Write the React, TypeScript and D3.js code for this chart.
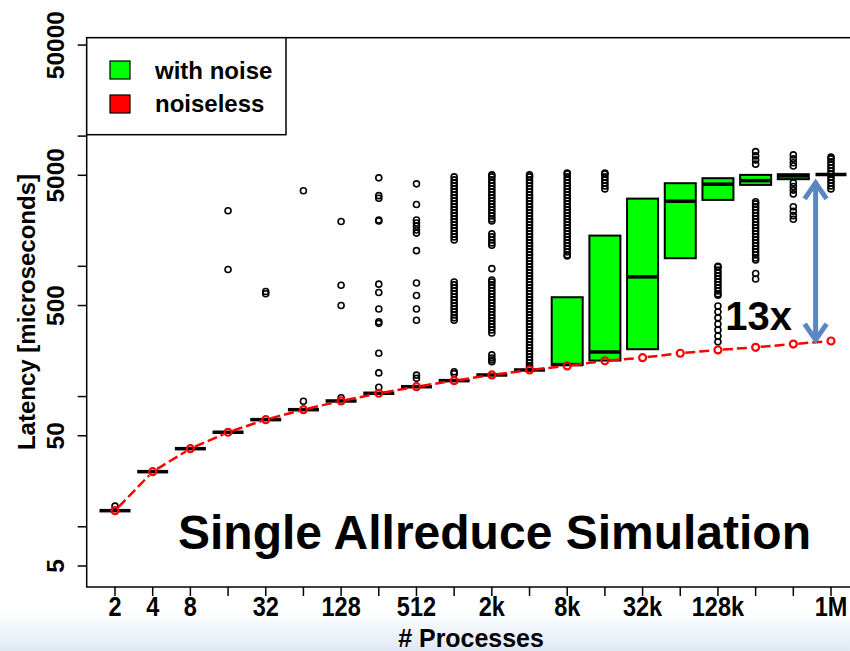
import * as d3 from 'd3'

const procs = [2, 4, 8, 16, 32, 64, 128, 256, 512, 1024, 2048, 4096, 8192, 16384, 32768, 65536, 131072, 262144, 524288, 1048576]
const xTickLabels = ['2', '4', '8', '', '32', '', '128', '', '512', '', '2k', '', '8k', '', '32k', '', '128k', '', '', '1M']

// noiseless latency (red) in microseconds
const noiseless = [13.3, 26.5, 39.8, 53.2, 66.5, 79.3, 92.5, 106, 119, 132.5, 146.5, 160, 172, 188, 199, 215, 228, 239, 253, 267]

// with-noise box statistics
const q1 = [13.3, 26.5, 39.8, 53.2, 66.5, 79.3, 92.5, 106, 119, 132.5, 146.5, 160, 175, 189, 231, 1154, 3237, 4220, 4667, 5070]
const medians = [13.3, 26.5, 39.8, 53.2, 66.5, 79.3, 92.5, 106, 119, 132.5, 146.5, 160, 176, 220, 830, 3162, 4272, 4552, 4947, 5070]
const q3 = [13.3, 26.5, 39.8, 53.2, 66.5, 79.3, 92.5, 106, 119, 132.5, 146.5, 160, 579, 1722, 3311, 4347, 4750, 5036, 5098, 5070]

const outliers: number[][] = [
  [14.4],
  [],
  [],
  [2670, 945],
  [640, 615],
  [3800, 92],
  [2210, 716, 500, 98],
  [4780, 3490, 3330, 2270, 2230, 730, 630, 470, 375, 365, 215, 152, 118],
  [4300, 2980, 2270, 2150, 2030, 1900, 1800, 1320, 745, 597, 470, 385, 146, 138],
  [4861, 4610, 4372, 4146, 3931, 3728, 3536, 3353, 3180, 3015, 2860, 2712, 2572, 2439, 2313, 2193, 2080, 1972, 1870, 1774, 1682, 1595,
    759, 720, 683, 647, 614, 582, 552, 524, 496, 471, 447, 423, 402, 385, 155, 150],
  [5036, 4861, 4610, 4372, 4146, 3931, 3728, 3536, 3353, 3180, 3015, 2860, 2712, 2572, 2439, 2313, 2230,
    1774, 1682, 1595, 1513, 1450, 960,
    786, 759, 720, 683, 647, 614, 582, 552, 524, 496, 471, 447, 423, 402, 381, 361, 342, 325, 308,
    209, 198, 191, 185],
  [5036, 4861, 4610, 4372, 4146, 3931, 3728, 3536, 3353, 3180, 3015, 2860, 2712, 2572, 2439, 2313, 2193, 2080, 1972, 1870, 1774,
    1682, 1595, 1513, 1435, 1361, 1290, 1224, 1160, 1100, 1044, 990, 938, 890, 844, 800, 759, 720, 683, 647, 614, 582, 552, 524,
    496, 471, 447, 423, 402, 381, 361, 342, 325, 308, 292, 277, 263, 249, 236, 224, 212, 201, 191, 181, 172, 166],
  [5200, 5126, 4861, 4610, 4372, 4146, 3931, 3728, 3536, 3353, 3180, 3015, 2860, 2712, 2572, 2439, 2313, 2193, 2080, 1972, 1870,
    1774, 1682, 1595, 1513, 1435, 1361, 1290, 1224, 1200],
  [5200, 5126, 4861, 4610, 4372, 4146, 3931],
  [],
  [],
  [1000, 990, 938, 890, 844, 800, 759, 720, 683, 647, 614, 600, 496, 447, 402, 361, 325, 292, 263],
  [7600, 7046, 6566, 6090, 3130, 3015, 2860, 2712, 2572, 2439, 2313, 2193, 2080, 1972, 1870, 1774, 1682, 1595, 1513, 1435, 1361,
    1290, 1224, 1160, 1120, 880, 800],
  [7174, 6683, 6240, 5900, 4372, 4100, 3850, 3600, 2870, 2650, 2450, 2300],
  [6900, 6683, 6338, 6010, 5700, 5405, 5126, 4861, 4610, 4372, 4146, 3931],
]

const yTickValues = [5, 10, 50, 100, 500, 1000, 5000, 10000, 50000]
const yLabelValues = [5, 50, 500, 5000, 50000]
const legendItems = [
  { label: 'with noise', color: '#00ff00' },
  { label: 'noiseless', color: '#ff0000' },
]

// 13x annotation
const arrowProcs = 790000
const arrowTop = 4610
const arrowBottom = 258

const W = 850
const H = 651
const plotLeft = 86.7
const plotTop = 37.7
const plotBottom = 587
const plotRight = 880
const boxW = 31
const font = '"Liberation Sans", Arial, sans-serif'

export default function App() {
  const x = d3.scaleLog().base(2).domain([2, 1048576]).range([115, 831])
  const y = d3.scaleLog().domain([5, 5000]).range([566, 175.3])

  const pts = procs.map((p, i) => [x(p), y(noiseless[i])] as [number, number])
  const gap = 5
  const segs = pts.slice(1).map((b, i) => {
    const a = pts[i]
    const dx = b[0] - a[0]
    const dy = b[1] - a[1]
    const len = Math.hypot(dx, dy)
    const ux = dx / len
    const uy = dy / len
    return [a[0] + ux * gap, a[1] + uy * gap, b[0] - ux * gap, b[1] - uy * gap]
  })

  const ax = x(arrowProcs)
  const aTop = y(arrowTop)
  const aBot = y(arrowBottom)

  return (
    <svg width={W} height={H} style={{ position: 'absolute', left: 0, top: 0, background: '#fff' }} fontFamily={font}>
      <defs>
        <linearGradient id="bg" x1="0" y1="0" x2="0" y2="1">
          <stop offset="0" stopColor="#ffffff" />
          <stop offset="1" stopColor="#dfe9f4" />
        </linearGradient>
      </defs>
      <rect x={0} y={0} width={W} height={H} fill="#fff" />
      <rect x={0} y={612} width={W} height={H - 612} fill="url(#bg)" />

      {/* frame */}
      <rect x={plotLeft} y={plotTop} width={plotRight - plotLeft} height={plotBottom - plotTop} fill="#fff" stroke="#000" strokeWidth={1.5} />

      {/* y axis */}
      {yTickValues.map((v) => (
        <line key={v} x1={plotLeft - 9} x2={plotLeft} y1={y(v)} y2={y(v)} stroke="#000" strokeWidth={1.5} />
      ))}
      {yLabelValues.map((v) => (
        <text key={v} transform={`translate(63.5,${y(v)}) rotate(-90)`} textAnchor="middle" fontSize={24.5} fontWeight="bold">
          {v}
        </text>
      ))}
      <text transform="translate(35,312) rotate(-90)" textAnchor="middle" fontSize={24} fontWeight="bold">
        Latency [microseconds]
      </text>

      {/* x axis */}
      {procs.map((p, i) => (
        <g key={p}>
          <line x1={x(p)} x2={x(p)} y1={plotBottom} y2={plotBottom + 9} stroke="#000" strokeWidth={1.5} />
          {xTickLabels[i] && (
            <text transform={`translate(${x(p)},616) scale(0.84,1)`} textAnchor="middle" fontSize={28} fontWeight="bold">
              {xTickLabels[i]}
            </text>
          )}
        </g>
      ))}
      <text transform="translate(471,646.5) scale(0.96,1)" textAnchor="middle" fontSize={26} fontWeight="bold">
        # Processes
      </text>

      {/* boxes */}
      {procs.map((p, i) => {
        const cx = x(p)
        const top = y(q3[i])
        const bot = y(q1[i])
        return (
          <g key={p}>
            {bot - top > 1 && (
              <rect x={cx - boxW / 2} y={top} width={boxW} height={bot - top} fill="#00ff00" stroke="#000" strokeWidth={2} />
            )}
            <line x1={cx - boxW / 2} x2={cx + boxW / 2} y1={y(medians[i])} y2={y(medians[i])} stroke="#000" strokeWidth={3.5} />
          </g>
        )
      })}

      {/* outliers */}
      {procs.map((p, i) =>
        outliers[i].map((v, j) => (
          <circle key={`${p}-${j}`} cx={x(p)} cy={y(v)} r={3} fill="none" stroke="#000" strokeWidth={1.6} />
        )),
      )}

      {/* noiseless line */}
      {segs.map((s, i) => (
        <line key={i} x1={s[0]} y1={s[1]} x2={s[2]} y2={s[3]} stroke="#ff0000" strokeWidth={2.5} strokeDasharray="10,4" />
      ))}
      {pts.map((pt, i) => (
        <circle key={i} cx={pt[0]} cy={pt[1]} r={3.5} fill="none" stroke="#ff0000" strokeWidth={2.2} />
      ))}

      {/* legend */}
      <rect x={plotLeft} y={plotTop} width={199.3} height={97} fill="#fff" stroke="#000" strokeWidth={1.5} />
      {legendItems.map((d, i) => (
        <g key={d.label}>
          <rect x={110} y={61 + i * 34} width={20} height={18} fill={d.color} stroke="#000" strokeWidth={1.2} />
          <text x={155} y={79 + i * 33} fontSize={24} fontWeight="bold">
            {d.label}
          </text>
        </g>
      ))}

      {/* annotation */}
      <g stroke="#5a87c2" strokeWidth={5} fill="none" strokeLinecap="butt">
        <line x1={ax} x2={ax} y1={aTop + 3} y2={aBot - 3} />
        <polyline points={`${ax - 11},${aTop + 19} ${ax},${aTop + 3} ${ax + 11},${aTop + 19}`} strokeLinejoin="miter" />
        <polyline points={`${ax - 11},${aBot - 19} ${ax},${aBot - 3} ${ax + 11},${aBot - 19}`} strokeLinejoin="miter" />
      </g>
      <text x={x(262144) + 3} y={y(325)} textAnchor="middle" fontSize={40} fontWeight="bold">
        13x
      </text>
      <text x={494.5} y={549} textAnchor="middle" fontSize={48} fontWeight="bold">
        Single Allreduce Simulation
      </text>
    </svg>
  )
}
